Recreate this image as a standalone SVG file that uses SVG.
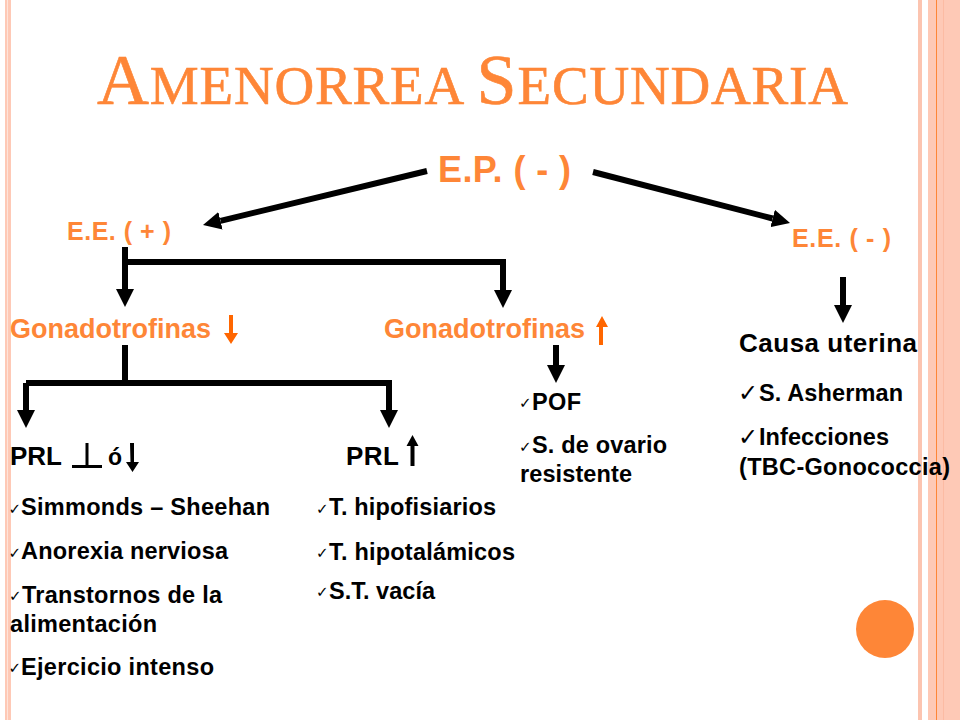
<svg xmlns="http://www.w3.org/2000/svg" width="960" height="720" viewBox="0 0 960 720">
<style>
text{font-family:"Liberation Sans",Arial,sans-serif;font-weight:bold;fill:#000}
.t{font-family:"Liberation Serif","Times New Roman",serif;font-weight:normal;fill:#fe8637;stroke:#fe8637;stroke-width:.6}
.o{fill:#fe8637}
.s{font-size:23.500px}
.c{font-family:"DejaVu Sans",sans-serif;font-weight:normal;font-size:15px}
.c2{font-family:"DejaVu Sans",sans-serif;font-weight:normal;font-size:24px}
.l{fill:none;stroke:#000;stroke-width:6}
.k{fill:#000}
.u{fill:#ff6600}
</style>
<defs>
<marker id="h" markerUnits="userSpaceOnUse" markerWidth="18" markerHeight="18" refX="0" refY="9" orient="auto"><path d="M0 0L18 9L0 18Z" class="k"/></marker>
</defs>
<rect width="960" height="720" fill="#fff"/>
<g id="stripes">
<rect x="5" width="2.500" height="720" fill="#fec9b6"/>
<rect x="8" width="3" height="720" fill="#fec9b6"/>
<rect x="918" width="4" height="720" fill="#fcc4b0"/>
<rect x="928" width="32" height="720" fill="#fec9b6"/>
<rect x="936" width="1" height="720" fill="#fe8637"/>
<rect x="943" width="1" height="720" fill="#fcbba3"/>
</g>
<g id="title"><text class="t" x="97" y="104" font-size="72" textLength="751" lengthAdjust="spacing">A<tspan font-size="55">MENORREA </tspan>S<tspan font-size="55">ECUNDARIA</tspan></text></g>
<g id="connectors">
<path class="l" d="M427 171L220.500 220.800" marker-end="url(#h)"/>
<path class="l" d="M593 172L772.600 218.500" marker-end="url(#h)"/>
<path class="l" d="M125 247V289" marker-end="url(#h)"/>
<path class="l" d="M125 262H503V290" marker-end="url(#h)"/>
<path class="l" d="M843 277V305" marker-end="url(#h)"/>
<path class="l" d="M556 345V365" marker-end="url(#h)"/>
<path class="l" d="M125 345V383"/>
<path class="l" d="M26 383H389V410" marker-end="url(#h)"/>
<path class="l" d="M26 383V410" marker-end="url(#h)"/>
<path fill="none" stroke="#000" stroke-width="3" d="M72 466.500H102M87 466.500V443"/>
<path class="k" d="M130 443h4v19h5l-6.500 10l-6.500-10h4.500Z"/>
<path class="k" d="M410.500 466h4v-20h4l-6-11l-6 11h4Z"/>
<path class="u" d="M229 315h4v18h5l-7 11l-7-11h5Z"/>
<path class="u" d="M599 345h4v-18h5l-6-11l-6 11h3Z"/>
</g>
<g id="n1"><text class="o" x="438" y="182" font-size="36" textLength="133">E.P. ( - )</text></g>
<g id="n2"><text class="o" x="67" y="240" font-size="25" textLength="104">E.E. ( + )</text></g>
<g id="n3"><text class="o" x="792" y="247" font-size="25" textLength="99">E.E. ( - )</text></g>
<g id="n4"><text class="o" x="10" y="338" font-size="27" textLength="201">Gonadotrofinas</text></g>
<g id="n5"><text class="o" x="384" y="338" font-size="27" textLength="201">Gonadotrofinas</text></g>
<g id="n6"><text x="739" y="352" font-size="26" textLength="178">Causa uterina</text>
<text class="c2" x="738" y="401">✓</text><text class="s" x="759" y="401" textLength="144">S. Asherman</text>
<text class="c2" x="738" y="445">✓</text><text class="s" x="759" y="445" textLength="130">Infecciones</text>
<text class="s" x="739" y="475" textLength="211">(TBC-Gonococcia)</text></g>
<g id="n7"><text class="c" x="519" y="408">✓</text><text class="s" x="532" y="410" textLength="49">POF</text>
<text class="c" x="519" y="452">✓</text><text class="s" x="532" y="453" textLength="135">S. de ovario</text>
<text class="s" x="520" y="482" textLength="112">resistente</text></g>
<g id="n8"><text x="10" y="465" font-size="26" textLength="52">PRL</text><text x="108" y="465" font-size="23">ó</text></g>
<g id="n9"><text x="346" y="465" font-size="26" textLength="53">PRL</text></g>
<g id="n10">
<text class="c" x="8.400" y="514">✓</text><text class="s" x="21" y="515" textLength="249">Simmonds – Sheehan</text>
<text class="c" x="8.400" y="558">✓</text><text class="s" x="21" y="559" textLength="207">Anorexia nerviosa</text>
<text class="c" x="9" y="601">✓</text><text class="s" x="22" y="603" textLength="200">Transtornos de la</text>
<text class="s" x="10" y="632" textLength="147">alimentación</text>
<text class="c" x="8.400" y="673">✓</text><text class="s" x="21" y="675" textLength="193">Ejercicio intenso</text></g>
<g id="n11">
<text class="c" x="316" y="514">✓</text><text class="s" x="329" y="515" textLength="167">T. hipofisiarios</text>
<text class="c" x="316" y="558">✓</text><text class="s" x="329" y="560" textLength="186">T. hipotalámicos</text>
<text class="c" x="316" y="597">✓</text><text class="s" x="329" y="599" textLength="106">S.T. vacía</text></g>
<circle id="dot" cx="885" cy="629" r="29" fill="#fe8637"/>
</svg>
